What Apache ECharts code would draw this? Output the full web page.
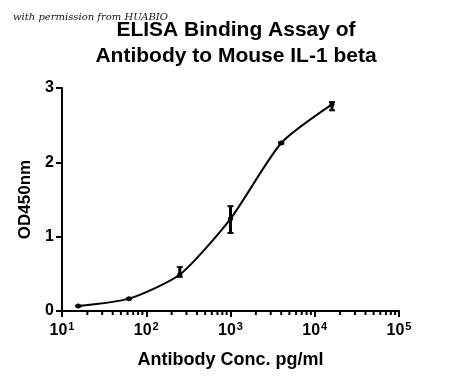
<!DOCTYPE html>
<html><head><meta charset="utf-8">
<script src="https://cdn.jsdelivr.net/npm/echarts@6/dist/echarts.min.js"></script>
<style>html,body{margin:0;padding:0;background:#fff}#c{width:450px;height:383px}</style>
</head><body><div id="c"></div>
<script>
const conc = [15.6, 62.5, 250, 1000, 4000, 16000];
const od = [0.067, 0.166, 0.49, 1.24, 2.26, 2.78];
const errLow = [0.062, 0.16, 0.46, 1.05, 2.25, 2.70];
const errHigh = [0.072, 0.172, 0.59, 1.41, 2.27, 2.81];
const xTicks = [10, 100, 1000, 10000, 100000];
const yTicks = [0, 1, 2, 3];
const minorTicks = [20,30,40,50,60,70,80,90,200,300,400,500,600,700,800,900,2000,3000,4000,5000,6000,7000,8000,9000,20000,30000,40000,50000,60000,70000,80000,90000];

const chart = echarts.init(document.getElementById('c'));
const font = '"Liberation Sans", Arial, sans-serif';
chart.setOption({
  animation: false,
  backgroundColor: '#fff',
  title: [
    {text: 'ELISA Binding Assay of\nAntibody to Mouse IL-1 beta', left: 231, top: 12, textAlign: 'center',
     textStyle: {fontFamily: font, fontWeight: 'bold', fontSize: 21, lineHeight: 26, color: '#000'}},
    {text: 'with permission from HUABIO', left: 8, top: 7,
     textStyle: {fontFamily: '"DejaVu Serif", "Liberation Serif", serif', fontStyle: 'italic', fontWeight: 'normal', fontSize: 10, color: '#111'}}
  ],
  grid: {left: 62, right: 51, top: 88, bottom: 72},
  xAxis: {
    type: 'log', logBase: 10, min: 10, max: 100000,
    name: 'Antibody Conc. pg/ml', nameLocation: 'middle', nameGap: 40,
    nameTextStyle: {fontFamily: font, fontWeight: 'bold', fontSize: 18, color: '#000'},
    axisLine: {onZero: false, lineStyle: {color: '#000', width: 2}},
    axisTick: {show: true, length: 6, inside: false, lineStyle: {color: '#000', width: 2}},
    splitLine: {show: false},
    axisLabel: {
      margin: 10,
      formatter: function (v) { const e = Math.round(Math.log10(v)); return '10{s|' + e + '}'; },
      rich: {s: {fontSize: 11, fontFamily: font, fontWeight: 'bold', verticalAlign: 'top', padding: [0,0,8,1], color: '#000'}},
      fontFamily: font, fontWeight: 'bold', fontSize: 16, color: '#000'
    }
  },
  yAxis: {
    type: 'value', min: 0, max: 3, interval: 1,
    name: 'OD450nm', nameLocation: 'middle', nameGap: 27, nameRotate: 90,
    nameTextStyle: {fontFamily: font, fontWeight: 'bold', fontSize: 17, color: '#000'},
    axisLine: {show: true, lineStyle: {color: '#000', width: 2}},
    axisTick: {show: true, length: 6, lineStyle: {color: '#000', width: 2}},
    splitLine: {show: false},
    axisLabel: {margin: 8, fontFamily: font, fontWeight: 'bold', fontSize: 16, color: '#000'}
  },
  series: [
    {
      type: 'line', smooth: 0.22, data: conc.map((c, i) => [c, od[i]]),
      symbol: 'circle', symbolSize: 5,
      lineStyle: {color: '#000', width: 2}, itemStyle: {color: '#000'}
    },
    {
      type: 'custom', data: conc.map((c, i) => [c, errLow[i], errHigh[i]]),
      renderItem: function (params, api) {
        const lo = api.coord([api.value(0), api.value(1)]);
        const hi = api.coord([api.value(0), api.value(2)]);
        const w = 3;
        return {type: 'group', children: [
          {type: 'line', shape: {x1: lo[0], y1: lo[1], x2: hi[0], y2: hi[1]}, style: {stroke: '#000', lineWidth: 3}},
          {type: 'line', shape: {x1: lo[0]-w, y1: lo[1], x2: lo[0]+w, y2: lo[1]}, style: {stroke: '#000', lineWidth: 2}},
          {type: 'line', shape: {x1: hi[0]-w, y1: hi[1], x2: hi[0]+w, y2: hi[1]}, style: {stroke: '#000', lineWidth: 2}}
        ]};
      }
    },
    {
      type: 'custom', clip: false, data: minorTicks.map(v => [v, 0]),
      renderItem: function (params, api) {
        const p = api.coord([api.value(0), 0]);
        return {type: 'line', shape: {x1: p[0], y1: p[1], x2: p[0], y2: p[1] + 4}, style: {stroke: '#000', lineWidth: 2}};
      }
    }
  ]
});
</script></body></html>
